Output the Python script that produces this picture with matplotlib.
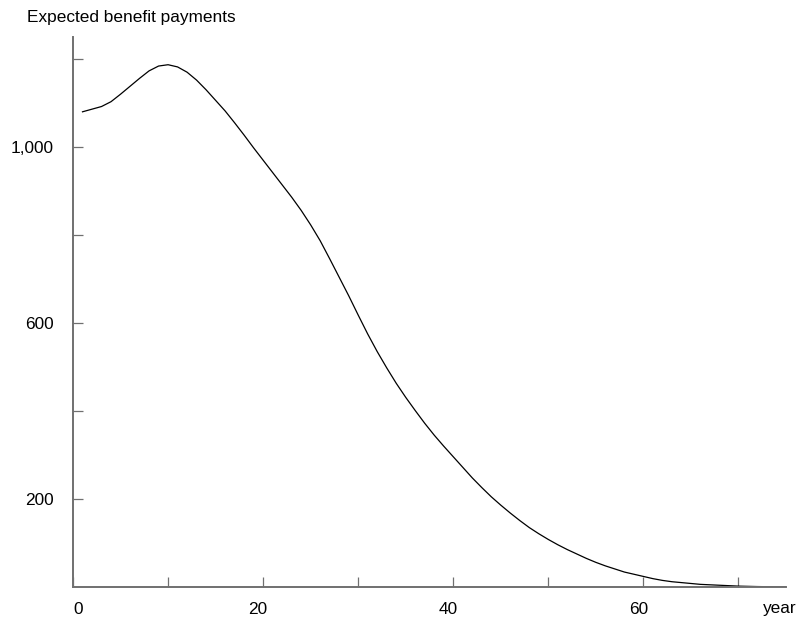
import matplotlib
matplotlib.use('Agg')
import matplotlib.pyplot as plt
import matplotlib.transforms as mtransforms

plt.rcParams['font.family'] = ['Liberation Sans', 'DejaVu Sans']

# expected benefit payments by year
years = list(range(1, 76))
payments = [
    1080, 1086, 1092, 1103, 1120, 1138, 1156, 1173, 1184, 1187,
    1182, 1170, 1152, 1130, 1106, 1082, 1055, 1027, 998, 970,
    942, 914, 886, 856, 823, 787, 746, 704, 662, 618,
    575, 535, 498, 463, 431, 401, 372, 345, 320, 296,
    272, 248, 226, 205, 186, 168, 151, 135, 121, 108,
    96, 85, 75, 65, 56, 48, 41, 34, 29, 24,
    19, 15, 12, 10, 8, 6, 5, 4, 3, 2,
    1.5, 1, 0.7, 0.4, 0.2,
]

xticks = [0, 10, 20, 30, 40, 50, 60, 70]
xlabels = ['0', '', '20', '', '40', '', '60', '']
yticks = [200, 400, 600, 800, 1000, 1200]
ylabels = ['200', '', '600', '', '1,000', '']

W, H = 798, 621
fig = plt.figure(figsize=(W / 100, H / 100), dpi=100)
ax = fig.add_axes([73 / W, (H - 587) / H, (786 - 73) / W, (587 - 37) / H])

ax.plot(years, payments, color='black', lw=0.9)

ax.set_xlim(0, 75)
ax.set_ylim(0, 1250)
for s in ['top', 'right']:
    ax.spines[s].set_visible(False)
for s in ['left', 'bottom']:
    ax.spines[s].set_color('#707070')
    ax.spines[s].set_linewidth(1.4)

ax.set_xticks(xticks)
ax.set_xticklabels(xlabels)
ax.set_yticks(yticks)
ax.set_yticklabels(ylabels)
ax.tick_params(axis='both', direction='in', length=7, width=0.9, color='#707070',
               labelsize=12.4, labelcolor='black')
ax.tick_params(axis='y', pad=14)
ax.tick_params(axis='x', pad=11)

# nudge x labels like the original
for lab in ax.get_xticklabels():
    if lab.get_text() == '0':
        lab.set_ha('left')
    else:
        lab.set_transform(lab.get_transform() +
                          mtransforms.ScaledTranslation(-5 / 100, 0, fig.dpi_scale_trans))

fig.text(27 / W, 1 - 22 / H, 'Expected benefit payments', fontsize=12.4, va='baseline', ha='left')
fig.text(797 / W, 1 - 613 / H, 'year', fontsize=12.4, va='baseline', ha='right')

fig.savefig('out.png', dpi=100)
